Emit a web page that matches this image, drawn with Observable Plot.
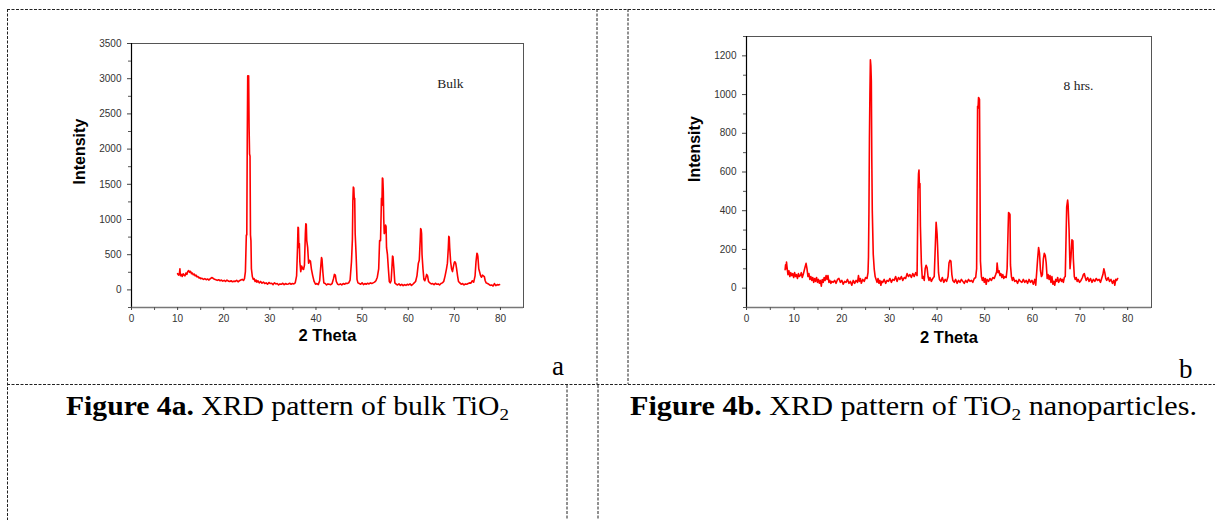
<!DOCTYPE html>
<html>
<head>
<meta charset="utf-8">
<script src="https://cdn.jsdelivr.net/npm/d3@7"></script>
<script src="https://cdn.jsdelivr.net/npm/@observablehq/plot@0.6"></script>
<style>
  html, body { margin: 0; padding: 0; background: #fff; }
  #page { position: relative; width: 1215px; height: 520px; overflow: hidden; background: #fff; }
  #panelA { position: absolute; left: 0; top: 0; }
  #panelB { position: absolute; left: 600px; top: 0; }
  #overlay { position: absolute; left: 0; top: 0; pointer-events: none; }
</style>
</head>
<body>
<div id="page">
  <div id="panelA"></div>
  <div id="panelB"></div>
  <svg id="overlay" width="1215" height="520"></svg>
</div>
<script>
// ---------- tick values ----------
const xTicks = [0, 10, 20, 30, 40, 50, 60, 70, 80];
const xMinorTicks = [5, 15, 25, 35, 45, 55, 65, 75];
const bulkYTicks = [0, 500, 1000, 1500, 2000, 2500, 3000, 3500];
const bulkYMinorTicks = [-250, 250, 750, 1250, 1750, 2250, 2750, 3250];
const nanoYTicks = [0, 200, 400, 600, 800, 1000, 1200];
const nanoYMinorTicks = [-100, 100, 300, 500, 700, 900, 1100, 1300];

// ---------- text ----------
const xTitle = "2 Theta";
const yTitle = "Intensity";
const bulkLabel = "Bulk";
const nanoLabel = "8 hrs.";

// ---------- data: [2theta, intensity] ----------
const bulkPattern = [
[10.0,230],[10.2,210],[10.4,240],[10.5,300],[10.6,200],[10.8,220],[11.0,190],[11.2,230],[11.4,210],[11.6,200],
[11.8,240],[12.0,220],[12.2,260],[12.4,275],[12.6,250],[12.8,265],[13.0,230],[13.2,240],[13.4,215],[13.6,225],
[13.8,200],[14.0,210],[14.2,185],[14.4,190],[14.6,170],[14.8,175],[15.0,160],[15.3,165],[15.6,150],[15.9,160],
[16.2,145],[16.5,155],[16.8,140],[17.1,160],[17.4,175],[17.7,165],[18.0,150],[18.3,145],[18.6,135],[18.9,145],
[19.2,130],[19.5,140],[19.8,125],[20.1,135],[20.4,120],[20.7,140],[21.0,125],[21.3,120],[21.6,130],[21.9,115],
[22.2,125],[22.5,120],[22.8,135],[23.1,115],[23.4,130],[23.7,140],[24.0,150],[24.3,135],[24.5,160],[24.7,260],
[24.9,780],[25.0,780],[25.1,2100],[25.2,3040],[25.3,3000],[25.4,3040],[25.5,2300],[25.6,1930],[25.7,1900],[25.8,780],
[25.9,700],[26.0,300],[26.2,190],[26.4,150],[26.6,160],[26.8,120],[27.0,140],[27.2,110],[27.4,130],[27.7,100],
[28.0,120],[28.3,95],[28.6,110],[28.9,90],[29.2,100],[29.5,80],[29.8,105],[30.1,90],[30.4,95],[30.7,75],
[31.0,100],[31.3,85],[31.6,90],[31.9,70],[32.2,85],[32.5,80],[32.8,95],[33.1,75],[33.4,90],[33.7,80],
[34.0,85],[34.3,95],[34.6,80],[34.9,90],[35.2,85],[35.5,100],[35.8,200],[36.0,600],[36.1,890],[36.2,880],
[36.3,600],[36.4,660],[36.5,400],[36.7,260],[36.9,340],[37.1,300],[37.3,290],[37.5,350],[37.7,800],[37.8,940],
[37.9,930],[38.0,700],[38.2,600],[38.4,380],[38.6,420],[38.8,410],[39.0,300],[39.3,200],[39.6,120],[39.9,80],
[40.2,90],[40.5,75],[40.8,130],[41.1,380],[41.2,460],[41.3,440],[41.5,250],[41.7,100],[42.0,90],[42.3,70],
[42.6,85],[42.9,80],[43.2,75],[43.5,90],[43.8,160],[44.0,220],[44.2,210],[44.4,120],[44.7,80],[45.0,75],
[45.3,85],[45.6,70],[45.9,90],[46.2,80],[46.5,95],[46.8,90],[47.1,100],[47.4,140],[47.7,400],[47.9,720],
[48.0,1260],[48.1,1460],[48.2,1450],[48.3,1290],[48.4,1300],[48.5,800],[48.7,500],[48.9,150],[49.1,100],[49.4,90],
[49.7,80],[50.0,100],[50.3,75],[50.6,90],[50.9,80],[51.2,95],[51.5,85],[51.8,100],[52.1,90],[52.4,100],
[52.7,110],[53.0,130],[53.3,180],[53.6,300],[53.8,700],[54.0,700],[54.2,1300],[54.3,1200],[54.4,1590],[54.5,1580],
[54.6,1400],[54.7,1000],[54.8,800],[55.0,820],[55.1,920],[55.2,900],[55.3,600],[55.5,500],[55.7,300],[55.9,120],
[56.1,100],[56.3,130],[56.5,350],[56.6,480],[56.7,470],[56.9,300],[57.1,100],[57.4,80],[57.7,70],[58.0,85],
[58.3,65],[58.6,80],[58.9,60],[59.2,75],[59.5,65],[59.8,80],[60.1,70],[60.4,85],[60.7,65],[61.0,80],
[61.3,100],[61.6,120],[61.9,200],[62.2,380],[62.4,420],[62.6,700],[62.7,870],[62.8,860],[62.9,800],[63.0,500],
[63.2,300],[63.4,150],[63.6,130],[63.8,170],[64.0,220],[64.2,200],[64.4,120],[64.7,100],[65.0,85],[65.3,90],
[65.6,75],[65.9,95],[66.2,80],[66.5,85],[66.8,70],[67.1,90],[67.4,100],[67.7,120],[68.0,200],[68.3,300],
[68.5,380],[68.7,600],[68.8,760],[68.9,750],[69.0,600],[69.2,400],[69.4,300],[69.6,260],[69.8,330],[70.0,390],
[70.1,400],[70.3,380],[70.5,300],[70.7,200],[70.9,120],[71.2,100],[71.5,80],[71.8,90],[72.1,70],[72.4,85],
[72.7,80],[73.0,90],[73.3,100],[73.6,95],[73.9,130],[74.2,110],[74.5,200],[74.7,400],[74.9,520],[75.0,510],
[75.1,480],[75.3,300],[75.5,250],[75.7,200],[75.9,180],[76.1,210],[76.3,200],[76.5,190],[76.7,130],[76.9,100],
[77.2,90],[77.5,80],[77.8,65],[78.1,70],[78.4,55],[78.7,90],[79.0,60],[79.3,75],[79.6,70],[79.8,75]
];

const nanoPattern = [
[8.1,95],[8.2,120],[8.3,100],[8.4,135],[8.5,110],[8.7,70],[8.9,90],[9.1,60],[9.3,80],[9.5,65],
[9.7,75],[9.9,55],[10.1,80],[10.3,60],[10.5,70],[10.7,50],[10.9,75],[11.1,60],[11.3,65],[11.5,80],
[11.7,55],[11.9,70],[12.1,90],[12.3,110],[12.5,128],[12.7,100],[12.9,60],[13.1,75],[13.3,45],[13.5,60],
[13.7,40],[13.9,55],[14.1,30],[14.3,50],[14.5,35],[14.7,55],[14.9,30],[15.1,45],[15.3,25],[15.5,40],
[15.7,10],[15.9,45],[16.1,30],[16.3,55],[16.5,40],[16.7,65],[16.9,45],[17.1,65],[17.3,30],[17.5,40],
[17.7,25],[17.9,35],[18.2,30],[18.5,40],[18.8,25],[19.1,45],[19.4,50],[19.7,30],[20.0,40],[20.3,20],
[20.6,35],[20.9,30],[21.2,45],[21.5,25],[21.8,35],[22.1,15],[22.4,40],[22.7,25],[23.0,40],[23.3,30],
[23.5,65],[23.7,35],[23.9,50],[24.1,25],[24.4,45],[24.7,35],[25.0,55],[25.3,50],[25.5,80],[25.6,160],
[25.7,400],[25.8,770],[25.9,1000],[26.0,1180],[26.1,1150],[26.2,1070],[26.3,660],[26.4,400],[26.6,175],[26.8,100],
[27.0,60],[27.2,45],[27.4,30],[27.6,50],[27.8,25],[28.0,40],[28.2,15],[28.4,35],[28.6,30],[28.9,45],
[29.2,25],[29.5,40],[29.8,35],[30.1,50],[30.4,30],[30.7,45],[31.0,40],[31.3,60],[31.6,35],[31.9,55],
[32.2,45],[32.5,60],[32.8,40],[33.1,55],[33.4,50],[33.7,75],[34.0,60],[34.3,70],[34.6,55],[34.9,75],
[35.2,60],[35.5,80],[35.8,65],[36.0,500],[36.1,590],[36.2,610],[36.3,520],[36.4,540],[36.5,320],[36.7,130],
[36.9,50],[37.1,60],[37.3,40],[37.5,100],[37.7,118],[37.9,105],[38.1,60],[38.3,40],[38.5,55],[38.8,35],
[39.1,50],[39.4,60],[39.6,200],[39.8,340],[40.0,280],[40.1,220],[40.3,80],[40.5,45],[40.8,35],[41.1,55],
[41.4,30],[41.7,45],[42.0,35],[42.3,60],[42.5,130],[42.7,144],[42.9,140],[43.1,70],[43.3,40],[43.6,30],
[43.9,45],[44.2,25],[44.5,40],[44.8,30],[45.1,45],[45.4,35],[45.7,25],[46.0,40],[46.3,30],[46.6,45],
[46.9,35],[47.2,40],[47.5,30],[47.8,50],[48.1,55],[48.3,100],[48.5,940],[48.6,930],[48.7,985],[48.8,980],
[48.9,975],[49.0,570],[49.1,140],[49.3,60],[49.5,40],[49.7,55],[49.9,30],[50.1,50],[50.3,20],[50.5,45],
[50.8,35],[51.1,50],[51.4,40],[51.7,55],[52.0,50],[52.3,70],[52.5,85],[52.6,130],[52.8,80],[53.0,90],
[53.2,65],[53.4,75],[53.6,55],[53.8,70],[54.0,50],[54.2,60],[54.5,55],[54.7,100],[54.9,300],[55.0,390],
[55.2,385],[55.3,380],[55.4,120],[55.6,60],[55.8,40],[56.0,55],[56.3,35],[56.6,40],[56.9,25],[57.2,45],
[57.5,35],[57.8,30],[58.1,45],[58.4,30],[58.7,40],[59.0,25],[59.3,45],[59.6,30],[59.9,40],[60.2,20],
[60.5,45],[60.7,15],[60.9,80],[61.1,150],[61.3,210],[61.5,180],[61.7,90],[61.9,60],[62.1,70],[62.3,150],
[62.5,180],[62.7,170],[62.9,130],[63.1,50],[63.3,70],[63.5,45],[63.7,65],[63.9,30],[64.1,60],[64.3,20],
[64.5,35],[64.7,15],[64.9,45],[65.1,35],[65.3,55],[65.5,30],[65.7,40],[65.9,50],[66.1,35],[66.3,45],
[66.5,30],[66.7,55],[66.9,60],[67.1,300],[67.2,420],[67.4,455],[67.5,430],[67.7,300],[67.9,100],[68.1,160],
[68.3,250],[68.5,245],[68.6,150],[68.8,60],[69.0,45],[69.2,55],[69.4,35],[69.6,45],[69.9,30],[70.2,40],
[70.5,55],[70.7,70],[70.9,75],[71.1,55],[71.3,40],[71.6,55],[71.9,35],[72.2,50],[72.5,30],[72.8,45],
[73.1,35],[73.4,50],[73.7,40],[74.0,45],[74.3,30],[74.6,55],[74.8,70],[75.0,100],[75.2,80],[75.4,50],
[75.6,40],[75.9,55],[76.2,35],[76.5,45],[76.8,25],[77.1,40],[77.3,15],[77.5,45],[77.7,40],[77.9,50]
];

// ---------- chart builder ----------
function xrdPanel(cfg) {
  const sans = "'Liberation Sans', Arial, sans-serif";
  const plain = d => String(d);
  return Plot.plot({
    width: cfg.width,
    height: 384,
    marginLeft: cfg.mL,
    marginRight: cfg.mR,
    marginTop: cfg.mT,
    marginBottom: cfg.mB,
    style: { fontFamily: sans, fontSize: "10px", color: "#333", background: "transparent", overflow: "visible" },
    x: { domain: [0, 85] },
    y: { domain: cfg.yDomain },
    marks: [
      Plot.frame({ stroke: "#555", strokeWidth: 1 }),
      Plot.ruleX([0], { stroke: "#000", strokeWidth: 1.2 }),
      Plot.ruleY([cfg.yDomain[0]], { stroke: "#777", strokeWidth: 1.6 }),
      Plot.axisY(cfg.yTicks, { anchor: "left", tickSize: 4, tickPadding: 6, label: null, fontSize: 10, stroke: "#444", tickFormat: plain }),
      Plot.axisY(cfg.yMinor, { anchor: "left", tickSize: 3, text: null, label: null, stroke: "#555" }),
      Plot.axisX(xTicks, { anchor: "bottom", tickSize: 3, tickPadding: 4, label: null, fontSize: 10, stroke: "#444", tickFormat: plain }),
      Plot.axisX(xMinorTicks, { anchor: "bottom", tickSize: 3, text: null, label: null, stroke: "#555" }),
      Plot.line(cfg.data, { x: d => d[0], y: d => d[1], stroke: "#ff0000", strokeWidth: 1.6, curve: "linear" }),
      Plot.text([yTitle], { text: d => d, frameAnchor: "left", dx: -52, dy: cfg.yTitleDy, rotate: -90,
        fontWeight: "bold", fontSize: 16, fill: "#000", fontFamily: sans }),
      Plot.text([xTitle], { text: d => d, frameAnchor: "bottom", dy: cfg.xTitleDy,
        fontWeight: "bold", fontSize: 16.5, fill: "#000", fontFamily: sans }),
      Plot.text([cfg.label], { text: d => d, frameAnchor: "top-right", textAnchor: "end", dx: cfg.labelDx, dy: cfg.labelDy,
        fontSize: 13.5, fill: "#222", fontFamily: "'Liberation Serif', 'Times New Roman', serif" })
    ]
  });
}

document.getElementById("panelA").appendChild(xrdPanel({
  width: 600, mL: 131, mR: 77, mT: 43, mB: 77,
  yDomain: [-250, 3500], yTicks: bulkYTicks, yMinor: bulkYMinorTicks,
  data: bulkPattern, label: bulkLabel, labelDx: -60, labelDy: 35,
  yTitleDy: 9, xTitleDy: 33
}));

document.getElementById("panelB").appendChild(xrdPanel({
  width: 615, mL: 146, mR: 64, mT: 36, mB: 77,
  yDomain: [-100, 1300], yTicks: nanoYTicks, yMinor: nanoYMinorTicks,
  data: nanoPattern, label: nanoLabel, labelDx: -58, labelDy: 44,
  yTitleDy: 10, xTitleDy: 35
}));

// ---------- table borders, panel letters and captions ----------
const ns = "http://www.w3.org/2000/svg";
const ov = document.getElementById("overlay");
const dashedLines = [
  [7, 9.5, 1215, 9.5],
  [7.5, 9, 7.5, 520],
  [7, 384.5, 1215, 384.5],
  [597, 9, 597, 384],
  [628, 9, 628, 384],
  [567, 385, 567, 520],
  [598, 385, 598, 520]
];
for (const [x1, y1, x2, y2] of dashedLines) {
  const l = document.createElementNS(ns, "line");
  l.setAttribute("x1", x1); l.setAttribute("y1", y1);
  l.setAttribute("x2", x2); l.setAttribute("y2", y2);
  l.setAttribute("stroke", "#222");
  l.setAttribute("stroke-width", "1");
  l.setAttribute("stroke-dasharray", "3 1.5");
  ov.appendChild(l);
}
ov.insertAdjacentHTML("beforeend", `
  <g font-family="'Liberation Serif', 'Times New Roman', serif" fill="#000">
    <text x="552" y="375" font-size="27">a</text>
    <text x="1179" y="378" font-size="27">b</text>
    <text x="66" y="415" font-size="26.5" textLength="443" lengthAdjust="spacingAndGlyphs"><tspan font-weight="bold">Figure 4a.</tspan> XRD pattern of bulk TiO<tspan font-size="17" dy="5">2</tspan></text>
    <text x="630" y="415" font-size="26.5" textLength="567" lengthAdjust="spacingAndGlyphs"><tspan font-weight="bold">Figure 4b.</tspan> XRD pattern of TiO<tspan font-size="17" dy="5">2</tspan><tspan dy="-5"> nanoparticles.</tspan></text>
  </g>
`);
</script>
</body>
</html>
